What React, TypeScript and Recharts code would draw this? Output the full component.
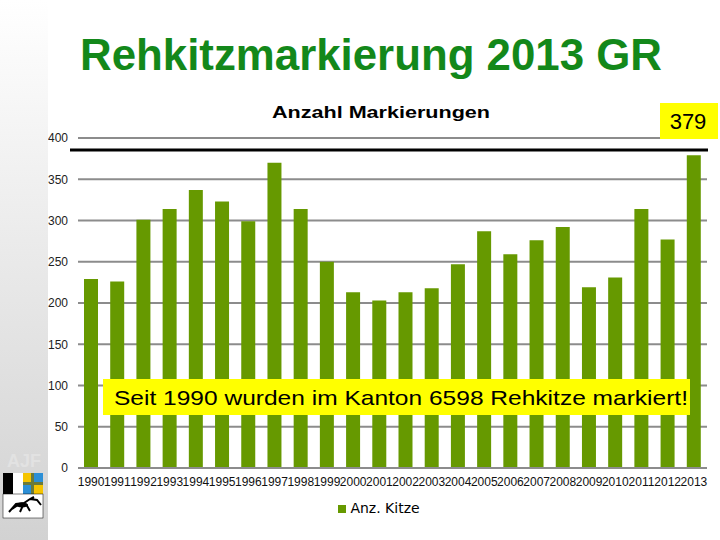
import { Bar, BarChart, CartesianGrid, Legend, XAxis, YAxis } from "recharts";

const years = [
  "1990", "1991", "1992", "1993", "1994", "1995", "1996", "1997",
  "1998", "1999", "2000", "2001", "2002", "2003", "2004", "2005",
  "2006", "2007", "2008", "2009", "2010", "2011", "2012", "2013",
];
const kitze = [
  229, 226, 301, 314, 337, 323, 299, 370, 314, 250, 213, 203, 213, 218,
  247, 287, 259, 276, 292, 219, 231, 314, 277, 379,
];
const yTicks = [0, 50, 100, 150, 200, 250, 300, 350, 400];

const title = "Rehkitzmarkierung 2013 GR";
const subtitle = "Anzahl Markierungen";
const lastValue = "379";
const note = "Seit 1990 wurden im Kanton 6598 Rehkitze markiert!";
const seriesName = "Anz. Kitze";

const data = years.map((year, i) => ({ year, kitze: kitze[i] }));

const GREEN = "#669900";

function Overlay() {
  return (
    <svg
      width={720}
      height={540}
      style={{ position: "absolute", left: 0, top: 0, pointerEvents: "none" }}
    >
      <defs>
        <linearGradient id="strip" x1="0" y1="0" x2="0" y2="1">
          <stop offset="0" stopColor="#ffffff" />
          <stop offset="1" stopColor="#d2d2d2" />
        </linearGradient>
      </defs>
      {/* left side strip with logo */}
      <rect x={0} y={0} width={48} height={540} fill="url(#strip)" />
      <text
        x={24}
        y={467}
        textAnchor="middle"
        fontSize={18}
        fontWeight="bold"
        fill="#e2e2e2"
        fontFamily="Liberation Sans, Arial, sans-serif"
      >
        AJF
      </text>
      <rect x={3} y={473} width={10} height={21} fill="#000" />
      <rect x={13} y={473} width={10} height={21} fill="#fff" />
      <rect x={23} y={473} width={10} height={10} fill="#f5c400" />
      <rect x={33} y={473} width={10} height={10} fill="#2c8fd6" />
      <rect x={23} y={483} width={10} height={11} fill="#2c8fd6" />
      <rect x={33} y={483} width={10} height={11} fill="#f5c400" />
      <rect x={31} y={473} width={3} height={21} fill="#6b7a3a" />
      <rect x={23} y={482} width={20} height={3} fill="#6b7a3a" />
      <rect x={3} y={494} width={40} height={24} fill="#fff" stroke="#000" strokeWidth={0.5} />
      <path
        d="M9 512 L16 504 L24 503 L30 499 L34 497 M30 499 L37 500 L41 505 M24 503 L20 512 M18 505 L12 509 M26 504 L30 511"
        stroke="#000"
        strokeWidth={2}
        fill="none"
      />
      <ellipse cx={22} cy={505} rx={6} ry={2.5} fill="#000" />

      {/* titles */}
      <text
        x={80}
        y={70}
        fontSize={45}
        fontWeight="bold"
        fill="#13881a"
        textLength={582}
        lengthAdjust="spacingAndGlyphs"
        fontFamily="Liberation Sans, Arial, sans-serif"
      >
        {title}
      </text>
      <text
        x={272}
        y={118}
        fontSize={16}
        fontWeight="bold"
        fill="#000"
        textLength={218}
        lengthAdjust="spacingAndGlyphs"
        fontFamily="Liberation Sans, Arial, sans-serif"
      >
        {subtitle}
      </text>

      {/* decorative rule */}
      <line x1={70} y1={150} x2={708} y2={150} stroke="#000" strokeWidth={3} />

      {/* 379 box */}
      <rect x={660} y={103} width={58} height={36} fill="#ffff00" />
      <text
        x={688}
        y={129}
        fontSize={22}
        textAnchor="middle"
        fill="#000"
        fontFamily="Liberation Sans, Arial, sans-serif"
      >
        {lastValue}
      </text>

      {/* note box */}
      <rect x={103} y={379} width={587} height={36} fill="#ffff00" />
      <text
        x={114}
        y={405}
        fontSize={21}
        fill="#000"
        textLength={574}
        lengthAdjust="spacingAndGlyphs"
        fontFamily="Liberation Sans, Arial, sans-serif"
      >
        {note}
      </text>
    </svg>
  );
}

export default function App() {
  return (
    <div
      style={{
        position: "absolute",
        left: 0,
        top: 0,
        width: 720,
        height: 540,
        background: "#fff",
        fontFamily: "Liberation Sans, Arial, sans-serif",
      }}
    >
      <BarChart
        width={720}
        height={540}
        data={data}
        margin={{ top: 138, right: 13, bottom: 48, left: 0 }}
      >
        <CartesianGrid vertical={false} stroke="#8c8c8c" strokeWidth={2} />
        <XAxis
          dataKey="year"
          interval={0}
          tickLine={false}
          tickSize={0}
          tickMargin={9}
          height={24}
          axisLine={{ stroke: "#8c8c8c", strokeWidth: 2 }}
          tick={{ fontSize: 12, fill: "#111" }}
        />
        <YAxis
          domain={[0, 400]}
          ticks={yTicks}
          width={78}
          tickLine={false}
          axisLine={false}
          tickSize={0}
          tickMargin={10}
          tick={{ fontSize: 12, fill: "#222" }}
        />
        <Legend
          layout="horizontal"
          verticalAlign="middle"
          align="center"
          iconType="square"
          iconSize={8}
          wrapperStyle={{ top: 499, left: 294, width: 180, height: 20 }}
          formatter={(value) => (
            <span style={{ color: "#000", fontSize: 14, fontFamily: "DejaVu Sans, sans-serif" }}>
              {value}
            </span>
          )}
        />
        <Bar
          dataKey="kitze"
          name={seriesName}
          fill={GREEN}
          barSize={14}
          isAnimationActive={false}
        />
      </BarChart>
      <Overlay />
    </div>
  );
}
